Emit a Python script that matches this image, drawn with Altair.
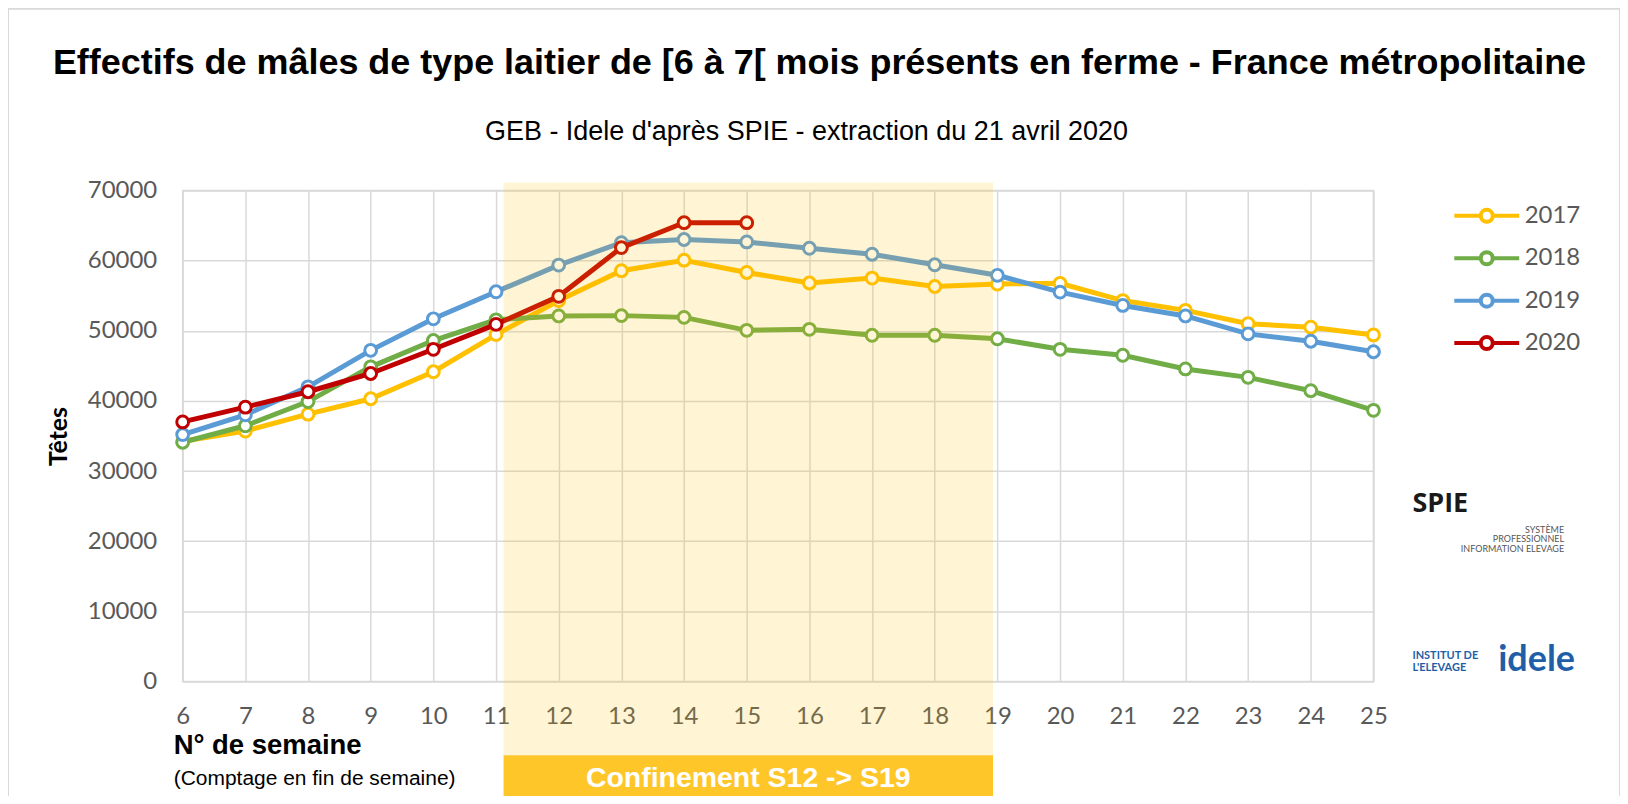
import altair as alt
import pandas as pd

weeks = list(range(6, 26))
v2017 = [34250, 35700, 38100, 40300, 44150, 49450, 54300, 58550, 60050, 58300,
         56800, 57500, 56300, 56650, 56750, 54300, 52900, 51000, 50500, 49400]
v2018 = [34100, 36450, 39900, 44850, 48600, 51550, 52100, 52150, 51900, 50050,
         50200, 49350, 49350, 48850, 47350, 46500, 44550, 43350, 41450, 38650]
v2019 = [35200, 38000, 42000, 47200, 51700, 55550, 59350, 62550, 63000, 62650,
         61750, 60900, 59400, 57900, 55500, 53600, 52100, 49550, 48500, 47000]
v2020 = [37000, 39100, 41300, 43900, 47350, 50900, 54900, 61850, 65400, 65400]

years = ["2017", "2018", "2019", "2020"]
colors = ["#FFC000", "#70AD47", "#5B9BD5", "#C00000"]
series = {"2017": v2017, "2018": v2018, "2019": v2019, "2020": v2020}
y_ticks = [0, 10000, 20000, 30000, 40000, 50000, 60000, 70000]

lock_start, lock_end = 11.12, 18.93

rows = []
for yr in years:
    for w, v in zip(weeks, series[yr]):
        rows.append({"week": w, "value": v, "year": yr})
df = pd.DataFrame(rows)

W, H = 1193, 492
NARROW = "Liberation Sans Narrow, Arial Narrow, Liberation Sans, Arial, sans-serif"
LAB = "Lato, Carlito, sans-serif"

legend_path = ("M-1.3,0L-0.24,0M0.24,0L1.3,0"
               "M-0.24,0A0.24,0.24,0,1,0,0.24,0A0.24,0.24,0,1,0,-0.24,0Z")

xenc = alt.X("week:Q",
             scale=alt.Scale(domain=[6, 25], nice=False, zero=False),
             axis=alt.Axis(values=weeks, format="d", title=None, grid=True,
                           gridColor="#D9D9D9", gridWidth=1.5, domain=False,
                           ticks=False, labelFont=LAB, labelFontSize=24,
                           labelColor="#595959", labelPadding=23, labelFlush=False))
yenc = alt.Y("value:Q",
             scale=alt.Scale(domain=[0, 70000], nice=False),
             axis=alt.Axis(values=y_ticks, format="d", title="Têtes", titleAngle=270,
                           titleX=-124, titleY=246, titleFont=LAB, titleFontSize=25,
                           titleFontWeight="bold", titleColor="#000000",
                           titleAlign="center", titleBaseline="middle",
                           grid=True, gridColor="#D9D9D9", gridWidth=1.5,
                           domain=False, ticks=False, labelFont=LAB, labelFontSize=24,
                           labelColor="#595959", labelPadding=26))
stroke = alt.Stroke("year:N",
                    scale=alt.Scale(domain=years, range=colors),
                    legend=alt.Legend(orient="none", legendX=1279.5, legendY=-1.5,
                                      title=None, symbolType=legend_path,
                                      symbolSize=2500, symbolStrokeWidth=4,
                                      symbolFillColor="white", labelFont=LAB,
                                      labelFontSize=24, labelColor="#595959",
                                      labelOffset=11, rowPadding=1.5, padding=0))

base = alt.Chart(df).encode(x=xenc, y=yenc, stroke=stroke)
layers = []
for yr in years:
    b = base.transform_filter(alt.datum.year == yr)
    layers.append(b.mark_line(strokeWidth=5))
    layers.append(b.mark_point(shape="circle", filled=True, fill="white", size=140,
                               strokeWidth=3, opacity=1))

lock_df = pd.DataFrame({"start": [lock_start], "end": [lock_end],
                        "label": ["Confinement S12 -> S19"],
                        "mid": [(lock_start + lock_end) / 2]})
band = alt.Chart(lock_df).mark_rect(color="#FFC000", opacity=0.17).encode(
    x=alt.X("start:Q"), x2="end:Q", y=alt.value(-8), y2=alt.value(566))
box = alt.Chart(lock_df).mark_rect(color="#FFC629").encode(
    x=alt.X("start:Q"), x2="end:Q", y=alt.value(566), y2=alt.value(611))
box_text = alt.Chart(lock_df).mark_text(font=NARROW, fontSize=28.5, fontWeight="bold",
                                        color="white", baseline="middle").encode(
    x=alt.X("mid:Q"), y=alt.value(589), text="label:N")


def txt(s, x, y, size, weight="normal", color="#000000", align="center",
        font=NARROW, baseline="middle"):
    return alt.Chart(pd.DataFrame({"t": [s]})).mark_text(
        font=font, fontSize=size, fontWeight=weight, color=color, align=align,
        baseline=baseline).encode(x=alt.value(x), y=alt.value(y), text="t:N")


title = txt("Effectifs de mâles de type laitier de [6 à 7[ mois présents en ferme - France métropolitaine",
            638, -128, 36, "bold")
subtitle = txt("GEB - Idele d'après SPIE - extraction  du 21 avril 2020", 625, -58, 27)
xtitle = txt("N° de semaine", -9, 557, 27.5, "bold", align="left")
xsub = txt("(Comptage en fin de semaine)", -9, 590, 21, align="left")

# logos rendered as text
spie = txt("SPIE", 1232, 314, 27, "bold", "#1a1a1a", "left", "Open Sans, sans-serif")
spie1 = txt("SYSTÈME", 1384, 340, 9, "normal", "#555555", "right", LAB)
spie2 = txt("PROFESSIONNEL", 1384, 349, 9, "normal", "#555555", "right", LAB)
spie3 = txt("INFORMATION ELEVAGE", 1384, 359, 9, "normal", "#555555", "right", LAB)
idele1 = txt("INSTITUT DE", 1232, 466, 11, "bold", "#1F5FA8", "left", LAB)
idele2 = txt("L'ELEVAGE", 1232, 478, 11, "bold", "#1F5FA8", "left", LAB)
idele3 = txt("idele", 1318, 470, 36, "bold", "#1F5FA8", "left", LAB)

frame = alt.Chart(pd.DataFrame({"a": [0]})).mark_rect(
    fillOpacity=0, stroke="#D9D9D9", strokeWidth=2).encode(
    x=alt.value(-175), x2=alt.value(1440), y=alt.value(-182), y2=alt.value(622))

chart = alt.layer(
    *layers, band, box, box_text, title, subtitle, xtitle, xsub,
    spie, spie1, spie2, spie3, idele1, idele2, idele3, frame
).properties(
    width=W, height=H,
    autosize=alt.AutoSizeParams(type="none"),
    padding={"left": 175, "top": 182, "right": 247, "bottom": 114},
    background="white"
).configure_view(stroke="#D9D9D9", strokeWidth=1.5)

chart.save("out.html", embed_options={"renderer": "svg", "actions": False})
